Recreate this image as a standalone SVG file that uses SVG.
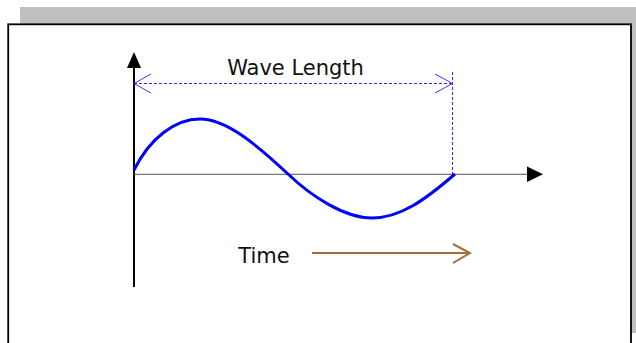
<svg xmlns="http://www.w3.org/2000/svg" width="636" height="343" viewBox="0 0 636 343">
<style>
.lbl{font-family:"DejaVu Sans","Verdana",sans-serif;font-size:21px;fill:#111}
.dash{stroke:#2a2aff;stroke-width:1;fill:none;stroke-dasharray:3 2}
.open{stroke:#3a3aff;stroke-width:1;fill:none}
</style>
<rect x="20" y="7" width="616" height="326" fill="#c0c0c0"/>
<rect x="8.2" y="24.3" width="622.8" height="330" fill="#fff" stroke="#000" stroke-width="1.8"/>
<g id="axes">
<line x1="134" y1="66" x2="134" y2="287" stroke="#000" stroke-width="2"/>
<polygon points="134,52 127,68 141,68" fill="#000"/>
<line x1="134" y1="174.3" x2="530" y2="174.3" stroke="#555" stroke-width="1"/>
<polygon points="543,174.3 527,166.5 527,182" fill="#000"/>
</g>
<g id="wave">
<path d="M134,170 C150,138 175,119 200,119 C226,119 256,144 288,174 C312,197 345,218 372,218 C400,218 425,200 455,174" fill="none" stroke="#0000ff" stroke-width="3"/>
</g>
<g id="connectors">
<line class="dash" x1="134" y1="83.5" x2="452.5" y2="83.5"/>
<line class="dash" x1="452.5" y1="72" x2="452.5" y2="174"/>
<polyline class="open" points="151,74 134,83.5 151,93"/>
<polyline class="open" points="435,74 452.5,83.5 435,93"/>
<line x1="312" y1="253" x2="469" y2="253" stroke="#a26f3c" stroke-width="2"/>
<polyline points="453,244 470,253 453,263" fill="none" stroke="#a26f3c" stroke-width="2"/>
</g>
<g id="label-wavelength"><text class="lbl" x="295.5" y="75" text-anchor="middle">Wave Length</text></g>
<g id="label-time"><text class="lbl" x="264" y="263" text-anchor="middle">Time</text></g>
</svg>
